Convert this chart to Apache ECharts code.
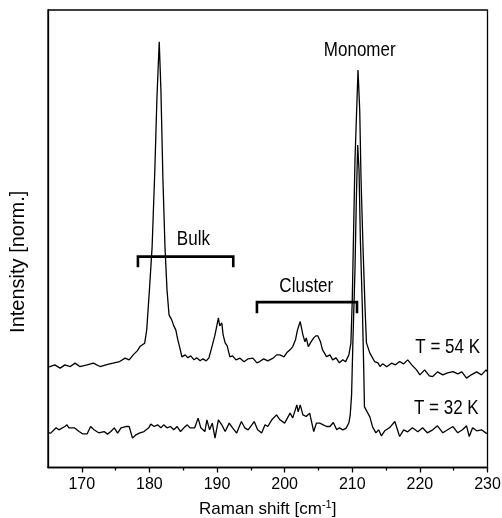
<!DOCTYPE html>
<html><head><meta charset="utf-8">
<script src="https://cdn.jsdelivr.net/npm/echarts@6/dist/echarts.min.js"></script>
<style>html,body{margin:0;padding:0;background:#fff}#c{width:502px;height:518px}</style>
</head><body><div id="c"></div>
<script>
// Raman shift [cm^-1], intensity (arbitrary, offset) for T = 54 K
const trace54 = [[165.0,100.7],[165.3,101],[166.0,102.7],[166.8,99.4],[167.5,102.7],[168.3,101],[169.0,104.4],[169.7,101],[170.8,102.7],[171.7,104.4],[172.7,101],[173.7,103],[174.6,104.4],[175.6,106],[176.4,109.4],[177.0,107.7],[177.6,112.7],[178.2,116.7],[178.6,121],[179.3,124.4],[179.6,137.7],[180.0,177.7],[180.4,221],[180.8,297.7],[181.1,367.7],[181.45,426],[181.7,377.7],[182.0,287.7],[182.3,221],[182.6,177.7],[182.9,152.7],[183.3,147.7],[183.6,141.7],[183.9,137.7],[184.2,127.7],[184.5,119.7],[184.8,110.7],[185.3,112.7],[185.7,109.7],[186.1,111.7],[186.6,107.7],[187.0,109.7],[187.5,106.7],[187.9,108.7],[188.4,106.7],[188.8,109.7],[189.2,119.7],[189.7,132.7],[190.2,149.7],[190.4,141.7],[190.7,144.7],[190.9,132.7],[191.2,124.7],[191.5,121.7],[191.9,110.7],[192.3,111.7],[192.8,107.7],[193.4,109.4],[194.0,105.7],[194.6,108.7],[195.3,109.4],[195.9,104.7],[196.3,106],[196.9,108.7],[197.5,106.7],[198.3,109.4],[198.8,112.7],[199.3,112.7],[199.9,110.7],[200.3,114.7],[200.8,117.7],[201.2,121],[201.6,127.7],[201.9,137.7],[202.3,146],[202.7,132.7],[203.0,125.7],[203.2,129.7],[203.5,121],[203.9,125.7],[204.3,129.7],[204.6,131.7],[204.9,131.7],[205.3,125.7],[205.6,117.7],[206.2,111],[206.7,112.7],[207.1,107.7],[207.6,109.7],[208.1,104.7],[208.6,107.7],[209.0,105.7],[209.5,112.7],[209.8,124.7],[210.0,167.7],[210.2,237.7],[210.4,307.7],[210.7,367.7],[210.85,397.7],[211.1,357.7],[211.3,287.7],[211.6,217.7],[211.9,157.7],[212.1,124.7],[212.6,114.4],[213.0,109.7],[213.3,106],[213.8,104.7],[214.1,101],[214.5,103.7],[215.1,100.7],[215.8,104.4],[216.4,102.7],[217.0,106],[217.6,103.7],[218.2,107.7],[218.8,102.7],[219.5,97.7],[220.0,92.7],[220.7,97.7],[221.4,91.7],[221.9,91],[222.6,95.7],[223.4,92.7],[224.1,94.7],[224.9,96],[225.6,93.7],[226.2,95.7],[226.9,89.4],[227.6,92.7],[228.4,95.7],[229.1,92.7],[229.8,97.7],[230.0,95.7]];
// T = 32 K
const trace32 = [[165.0,34.7],[165.4,34.4],[166.2,39.7],[166.6,37.7],[167.5,41],[167.8,42.7],[168.1,39.7],[168.9,39.7],[169.6,36],[170.1,33.7],[170.8,33.7],[171.3,41],[171.8,37.7],[172.5,34.7],[173.3,36],[173.8,33.4],[174.3,36],[174.8,39.7],[175.3,34.4],[175.8,39.7],[176.5,41],[177.0,41],[177.5,29.4],[178.0,32.7],[178.5,34.4],[179.2,36],[179.9,39.7],[180.2,43.4],[180.7,41],[181.2,42.7],[181.7,39.7],[182.1,42.7],[182.6,39.7],[183.1,41],[183.6,37.7],[184.1,41],[184.6,36],[185.1,39.7],[185.6,42.7],[186.0,39.7],[186.7,39.7],[187.2,49.4],[187.6,39.7],[188.2,36],[188.5,47.7],[188.9,37.7],[189.3,44.4],[189.7,29.4],[190.2,47.7],[190.7,42.7],[191.2,36],[191.8,44.4],[192.3,39.7],[192.9,34.4],[193.6,46],[194.1,39.7],[194.6,37.7],[195.5,46],[196.0,37.7],[196.6,34.4],[197.1,42.7],[197.5,41],[198.1,47.7],[198.8,52.7],[199.3,47.7],[200.0,44.4],[200.8,54.4],[201.2,49.7],[201.8,62.7],[202.0,55.7],[202.3,62.7],[202.7,52.7],[203.2,51],[203.7,54.4],[204.3,36],[204.7,44.4],[205.2,44.4],[205.7,42.7],[206.2,41],[206.7,41],[207.2,45],[207.7,37.7],[208.1,39.7],[208.6,37.7],[209.1,39.4],[209.5,44.7],[209.7,52.7],[209.9,72.7],[210.1,127.7],[210.4,197.7],[210.6,267.7],[210.8,322.7],[211.0,297.7],[211.2,227.7],[211.5,157.7],[211.7,97.7],[211.8,60.7],[212.6,50.7],[213.0,40.7],[213.5,34.7],[213.9,37.7],[214.3,31.7],[214.8,36.7],[215.5,39.7],[216.3,46],[217.0,31],[217.6,37.7],[218.2,35.7],[218.9,39.7],[219.7,35.7],[220.4,39.7],[221.1,34.7],[221.9,37.7],[222.6,41.7],[223.4,34.7],[224.1,37.7],[224.9,41],[225.6,34.7],[226.3,37.7],[226.9,41.7],[227.3,31],[227.8,39.7],[228.4,36.7],[229.1,37.7],[229.8,34.4],[230.0,34]];

const majorTicks = [170, 180, 190, 200, 210, 220, 230];
const minorTicks = [175, 185, 195, 205, 215, 225];

// brackets: [x start, x end, y of bar, y of ends]
const brackets = [[178.3, 192.4, 211, 200.4], [195.9, 210.7, 165.4, 154.4]];

const annoText = ['Bulk', 'Cluster', 'Monomer', 'T = 54 K', 'T = 32 K'];
const annoX = [186.5, 203.2, 211.1, 228.9, 228.7];
const annoY = [228.7, 181, 417.7, 119.7, 59.4];
const annoAlign = ['center', 'center', 'center', 'right', 'right'];

const FONT = '"Liberation Sans", Arial, Helvetica, sans-serif';
const chart = echarts.init(document.getElementById('c'), null, {renderer: 'canvas'});

const axisBase = {
  type: 'value', min: 165, max: 230, interval: 5,
  splitLine: {show: false}
};

chart.setOption({
  animation: false,
  backgroundColor: '#fff',
  grid: {left: 48, right: 14.5, top: 10, bottom: 50.5, containLabel: false, outerBoundsMode: 'none',
    show: true, borderColor: '#000', borderWidth: 1.3, backgroundColor: 'transparent'},
  xAxis: [
    Object.assign({}, axisBase, {
      name: 'Raman shift [cm{sup|-1}]',
      nameLocation: 'middle', nameGap: 32,
      nameTextStyle: {color: '#000', fontFamily: FONT, fontSize: 17,
        rich: {sup: {fontSize: 11, fontFamily: FONT, color: '#000', verticalAlign: 'top', padding: [0, 0, 9, 0]}}},
      axisLine: {show: true, lineStyle: {color: '#000', width: 1.3}},
      axisTick: {show: true, inside: false, length: 5, lineStyle: {color: '#000', width: 1.3}, customValues: majorTicks},
      axisLabel: {show: true, color: '#000', fontFamily: FONT, fontSize: 16, margin: 9, customValues: majorTicks}
    }),
    Object.assign({}, axisBase, {
      position: 'bottom',
      axisLine: {show: false},
      axisTick: {show: true, inside: false, length: 3, lineStyle: {color: '#000', width: 1.3}, customValues: minorTicks},
      axisLabel: {show: false}
    })
  ],
  yAxis: {
    type: 'value', min: 0, max: 457.7,
    name: 'Intensity [norm.]', nameLocation: 'middle', nameGap: 20,
    nameTextStyle: {color: '#000', fontFamily: FONT, fontSize: 20, padding: [0, 46, 0, 0]},
    axisLine: {show: true, lineStyle: {color: '#000', width: 1.3}},
    axisTick: {show: false}, axisLabel: {show: false}, splitLine: {show: false}
  },
  series: [
    {type: 'line', data: trace54, showSymbol: false, symbol: 'none', lineStyle: {color: '#000', width: 1.3}, z: 3},
    {type: 'line', data: trace32, showSymbol: false, symbol: 'none', lineStyle: {color: '#000', width: 1.3}, z: 3},
    {
      type: 'custom', data: brackets, z: 4,
      renderItem: function (params, api) {
        const x1 = api.value(0), x2 = api.value(1), y = api.value(2), y2 = api.value(3);
        return {
          type: 'polyline',
          shape: {points: [api.coord([x1, y2]), api.coord([x1, y]), api.coord([x2, y]), api.coord([x2, y2])]},
          style: {stroke: '#000', lineWidth: 2.6, fill: null, lineJoin: 'miter'}
        };
      }
    },
    {
      type: 'custom', data: annoX.map((x, i) => [x, annoY[i]]), z: 5,
      renderItem: function (params, api) {
        const i = params.dataIndex;
        const p = api.coord([api.value(0), api.value(1)]);
        return {
          type: 'text', x: p[0], y: p[1], scaleY: 1.2,
          style: {text: annoText[i], fill: '#000', font: '17px ' + FONT, align: annoAlign[i], verticalAlign: 'middle'}
        };
      }
    }
  ]
});
</script></body></html>
